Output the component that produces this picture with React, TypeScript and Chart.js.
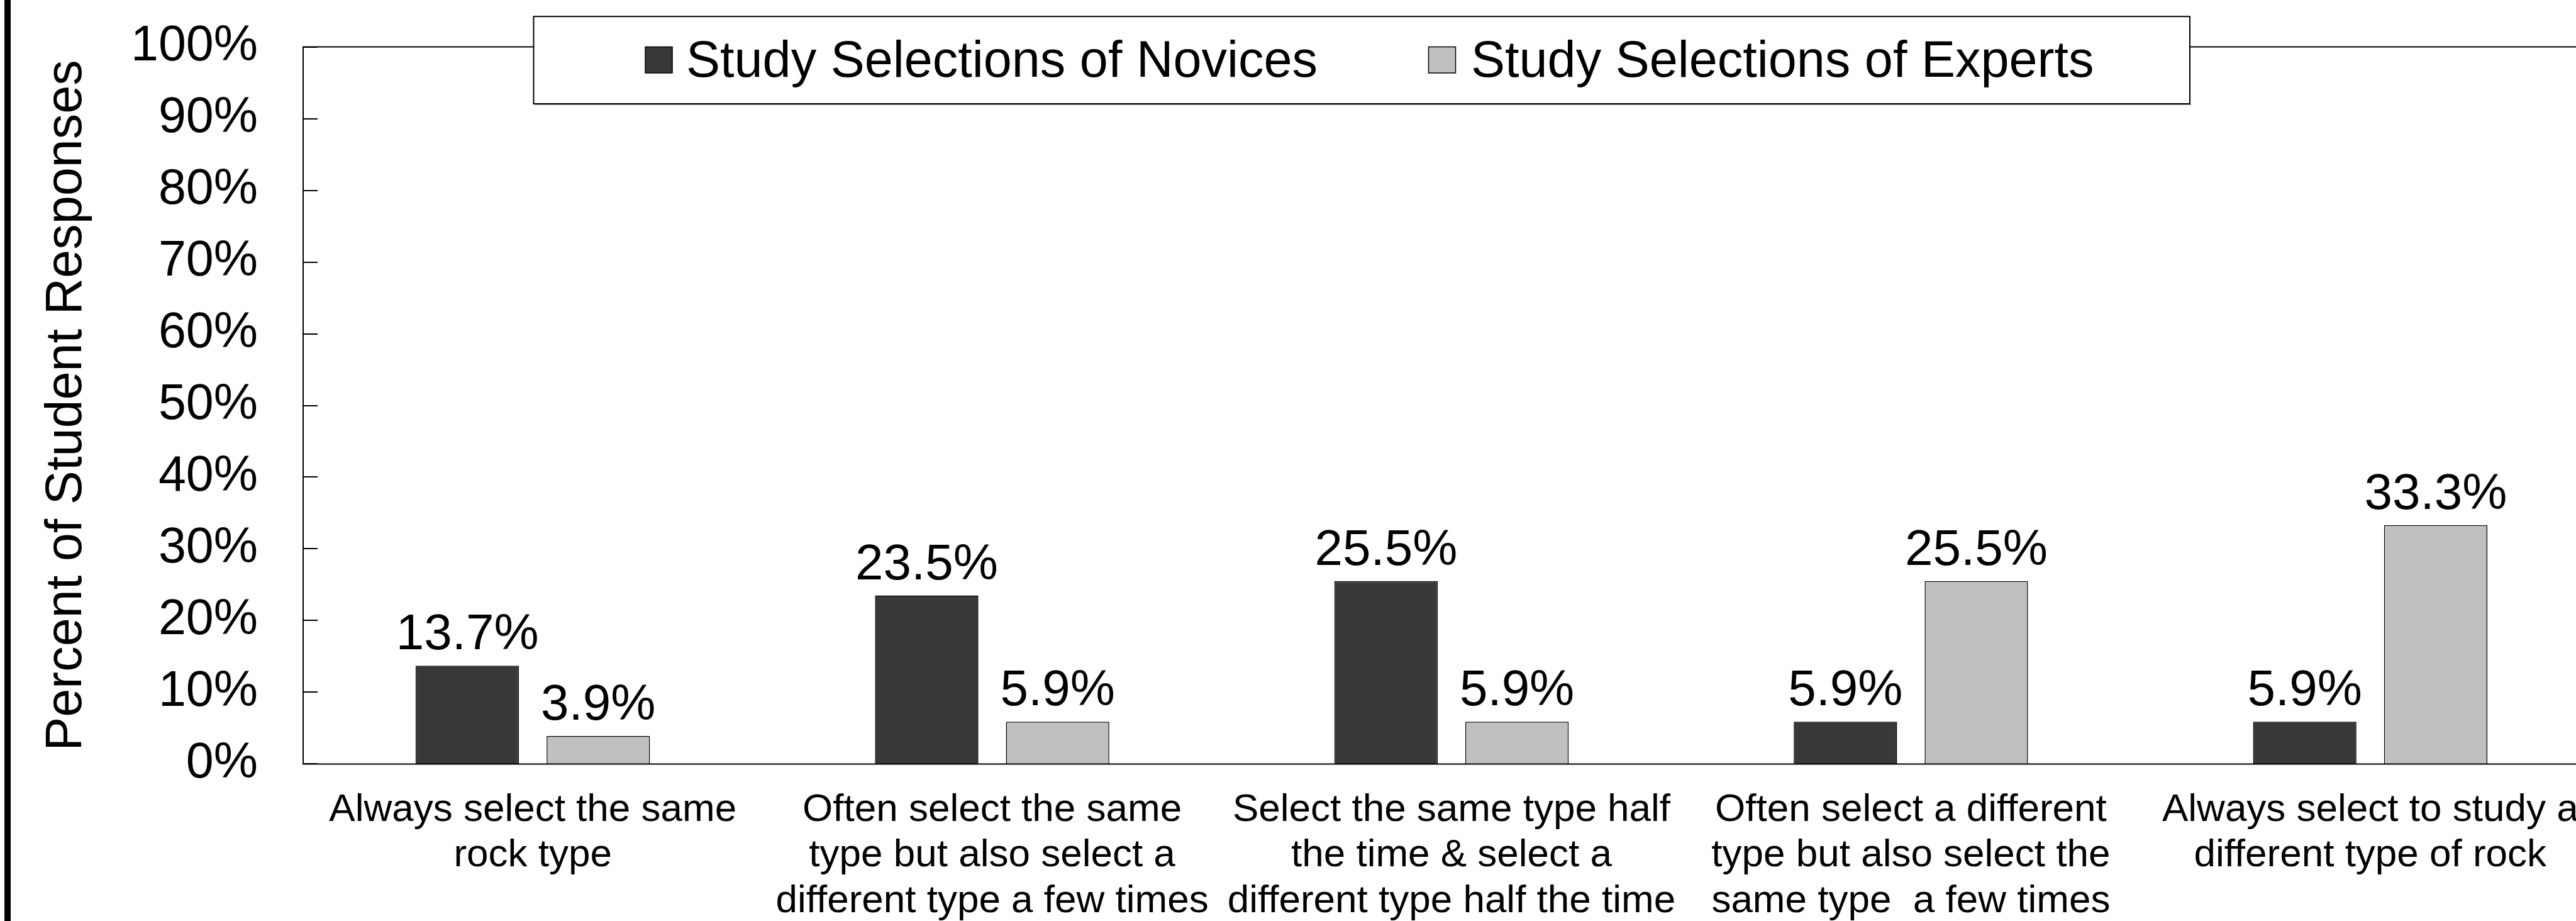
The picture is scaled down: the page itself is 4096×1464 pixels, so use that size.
import React, { useEffect, useRef } from 'react';
import { Chart, registerables } from 'chart.js';

Chart.register(...registerables);

// Response categories (multi-line axis labels)
const categories: string[][] = [
  ['Always select the same', 'rock type'],
  ['Often select the same', 'type but also select a', 'different type a few times'],
  ['Select the same type half', 'the time & select a', 'different type half the time'],
  ['Often select a different', 'type but also select the', 'same type  a few times'],
  ['Always select to study a', 'different type of rock'],
];

// Percent of student responses per category
const noviceValues = [13.7, 23.5, 25.5, 5.9, 5.9];
const expertValues = [3.9, 5.9, 5.9, 25.5, 33.3];

const seriesNames = ['Study Selections of Novices', 'Study Selections of Experts'];
const seriesColors = ['#3a3836', '#c0c0c0'];

const yMin = 0;
const yMax = 100;
const yStep = 10;
const yTitle = 'Percent of Student Responses';

const FONT = "'Liberation Sans', Arial, Helvetica, sans-serif";

const CANVAS_W = 4134;
const CANVAS_H = 1464;

const framePlugin = {
  id: 'frame',
  beforeDraw(chart: any) {
    const { ctx } = chart;
    ctx.save();
    ctx.fillStyle = '#ffffff';
    ctx.fillRect(0, 0, chart.width, chart.height);
    // heavy outer border on the left side
    ctx.fillStyle = '#000000';
    ctx.fillRect(7, 0, 10, chart.height);
    ctx.restore();
  },
  afterDatasetsDraw(chart: any) {
    const { ctx, chartArea: a } = chart;
    const y = chart.scales.y;
    ctx.save();
    ctx.strokeStyle = '#000000';
    ctx.lineWidth = 2;
    ctx.beginPath();
    ctx.moveTo(a.right, a.top);
    ctx.lineTo(a.left, a.top);
    ctx.lineTo(a.left, a.bottom);
    ctx.lineTo(a.right, a.bottom);
    ctx.stroke();
    // inward tick marks on the value axis
    ctx.beginPath();
    y.ticks.forEach((t: any) => {
      const py = Math.round(y.getPixelForValue(t.value));
      ctx.moveTo(a.left, py);
      ctx.lineTo(a.left + 23, py);
    });
    ctx.stroke();

    // value labels above each bar
    ctx.fillStyle = '#000000';
    ctx.font = `80px ${FONT}`;
    ctx.textAlign = 'center';
    ctx.textBaseline = 'alphabetic';
    chart.data.datasets.forEach((ds: any, di: number) => {
      const meta = chart.getDatasetMeta(di);
      meta.data.forEach((bar: any, i: number) => {
        ctx.fillText(`${ds.data[i].toFixed(1)}%`, bar.x, bar.y - 26);
      });
    });
    ctx.restore();
  },
  afterDraw(chart: any) {
    const { ctx } = chart;
    ctx.save();
    // legend box
    const bx = 848.5, by = 26.2, bw = 2633.5, bh = 138.8;
    ctx.fillStyle = '#a0a0a0';
    ctx.fillRect(bx + 2, by + bh, bw, 2);
    ctx.fillStyle = '#ffffff';
    ctx.fillRect(bx, by, bw, bh);
    ctx.strokeStyle = '#000000';
    ctx.lineWidth = 2;
    ctx.strokeRect(bx, by, bw, bh);

    const swatchX = [1026, 2271.5];
    const textX = [1091, 2339];
    ctx.font = `81px ${FONT}`;
    ctx.textAlign = 'left';
    ctx.textBaseline = 'alphabetic';
    chart.data.datasets.forEach((ds: any, i: number) => {
      ctx.fillStyle = ds.backgroundColor;
      ctx.fillRect(swatchX[i], 74.5, 43, 41.5);
      ctx.lineWidth = 1.5;
      ctx.strokeStyle = '#000000';
      ctx.strokeRect(swatchX[i], 74.5, 43, 41.5);
      ctx.fillStyle = '#000000';
      ctx.fillText(ds.label, textX[i], 121.8);
    });
    ctx.restore();
  },
};

export default function App() {
  const canvasRef = useRef<HTMLCanvasElement | null>(null);

  useEffect(() => {
    const canvas = canvasRef.current;
    if (!canvas) return;
    const chart = new Chart(canvas, {
      type: 'bar',
      data: {
        labels: categories,
        datasets: [
          {
            label: seriesNames[0],
            data: noviceValues,
            backgroundColor: seriesColors[0],
            borderColor: '#000000',
            borderWidth: 1.5,
            borderSkipped: 'bottom',
          },
          {
            label: seriesNames[1],
            data: expertValues,
            backgroundColor: seriesColors[1],
            borderColor: '#000000',
            borderWidth: 1.5,
            borderSkipped: 'bottom',
          },
        ],
      },
      options: {
        responsive: false,
        animation: false,
        devicePixelRatio: 1,
        layout: { padding: { top: 74.6, left: 0, right: 0, bottom: 0 } },
        datasets: {
          bar: { categoryPercentage: 0.57, barPercentage: 0.789 },
        },
        plugins: {
          legend: { display: false },
          tooltip: { enabled: false },
          title: { display: false },
        },
        scales: {
          x: {
            type: 'category',
            offset: true,
            grid: { display: false, drawTicks: false },
            border: { display: false },
            ticks: {
              color: '#000000',
              font: { family: FONT, size: 62, lineHeight: 1.17 },
              padding: 37,
              maxRotation: 0,
              minRotation: 0,
              autoSkip: false,
            },
            afterFit: (scale: any) => {
              scale.height = 249.6;
              scale.paddingLeft = 0;
              scale.paddingRight = 0;
            },
          },
          y: {
            min: yMin,
            max: yMax,
            grid: { display: false, drawTicks: false },
            border: { display: false },
            ticks: {
              stepSize: yStep,
              color: '#000000',
              font: { family: FONT, size: 79 },
              padding: 72,
              callback: (v: any) => `${v}%`,
            },
            title: {
              display: true,
              text: yTitle,
              color: '#000000',
              font: { family: FONT, size: 81, lineHeight: 1.2 },
              padding: { top: 58, bottom: 0 },
            },
            afterFit: (scale: any) => {
              scale.width = 482;
              scale.paddingTop = 0;
              scale.paddingBottom = 0;
            },
          },
        },
      },
      plugins: [framePlugin],
    });
    return () => chart.destroy();
  }, []);

  return (
    <div
      style={{
        position: 'fixed',
        left: 0,
        top: 0,
        width: 4096,
        height: 1464,
        overflow: 'hidden',
        background: '#ffffff',
      }}
    >
      <canvas
        ref={canvasRef}
        width={CANVAS_W}
        height={CANVAS_H}
        style={{ display: 'block', width: CANVAS_W, height: CANVAS_H }}
      />
    </div>
  );
}
